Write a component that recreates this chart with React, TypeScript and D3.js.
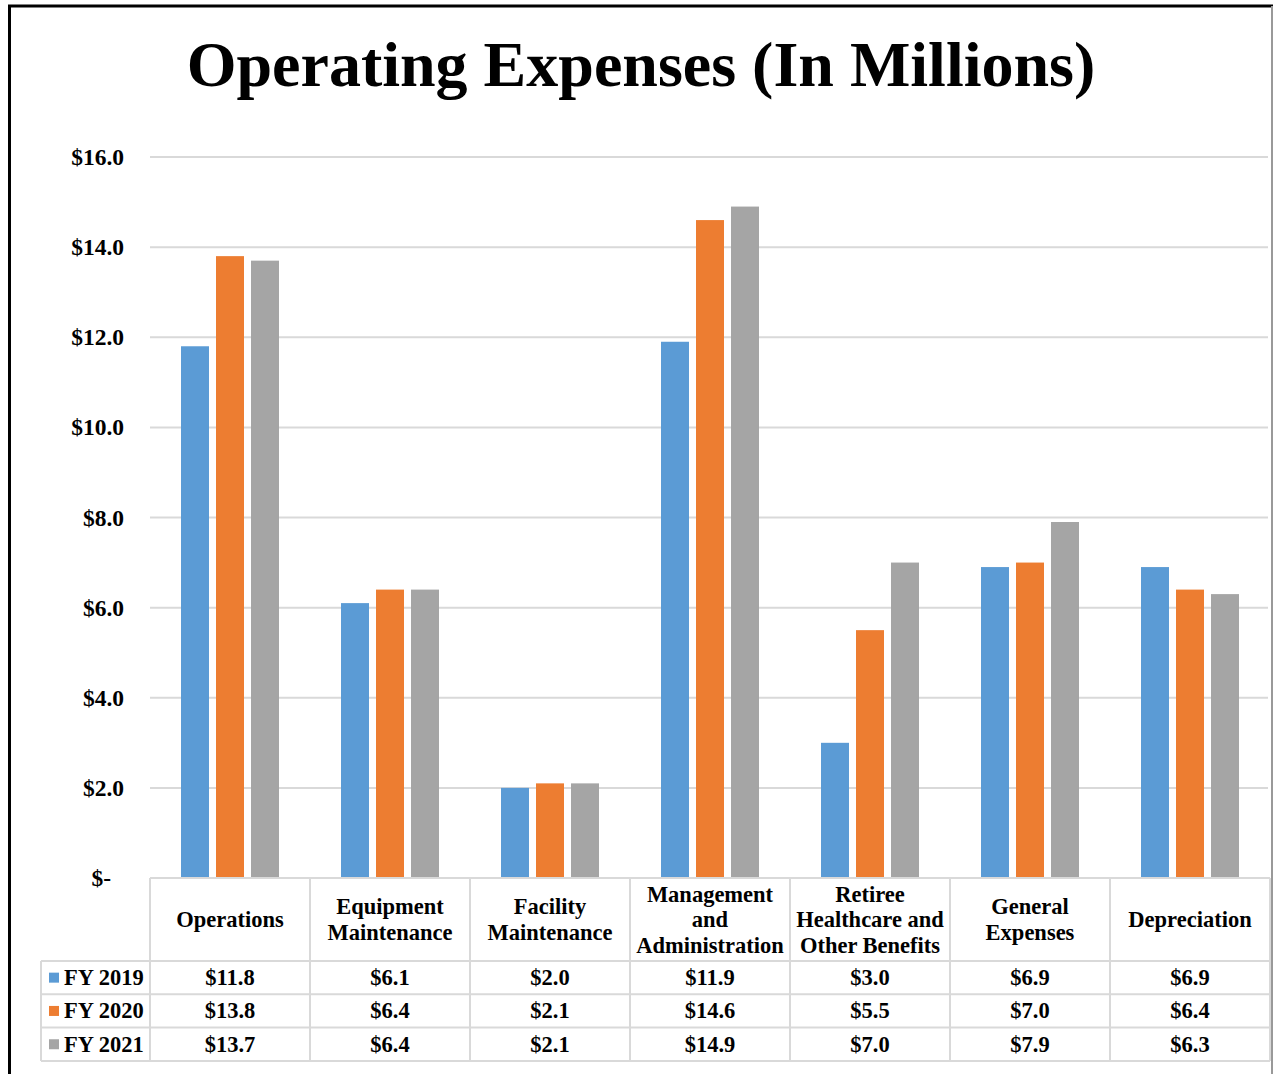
import * as d3 from "d3";

const categories = [
  ["Operations"],
  ["Equipment", "Maintenance"],
  ["Facility", "Maintenance"],
  ["Management", "and", "Administration"],
  ["Retiree", "Healthcare and", "Other Benefits"],
  ["General", "Expenses"],
  ["Depreciation"],
];
const seriesNames = ["FY 2019", "FY 2020", "FY 2021"];
const fy2019 = [11.8, 6.1, 2.0, 11.9, 3.0, 6.9, 6.9];
const fy2020 = [13.8, 6.4, 2.1, 14.6, 5.5, 7.0, 6.4];
const fy2021 = [13.7, 6.4, 2.1, 14.9, 7.0, 7.9, 6.3];
const yTicks = [0, 2, 4, 6, 8, 10, 12, 14, 16];

const seriesValues = [fy2019, fy2020, fy2021];
const colors = ["#5B9BD5", "#ED7D31", "#A5A5A5"];
const font = "'Liberation Serif', 'Times New Roman', serif";
const gridColor = "#d9d9d9";

export default function App() {
  const W = 1273;
  const H = 1074;
  const left = 150;
  const right = 1270;
  const top = 157;
  const bottom = 878;

  const x = d3
    .scaleBand<number>()
    .domain(d3.range(categories.length))
    .range([left, right]);
  const inner = d3
    .scaleBand<number>()
    .domain(d3.range(seriesNames.length))
    .range([31, x.bandwidth() - 31])
    .paddingInner(0.2);
  const y = d3.scaleLinear().domain([0, 16]).range([bottom, top]);

  const headerBottom = 961;
  const rowH = 33.3;
  const legendLeft = 41;
  const tableFont = 22.5;

  const fmt = (v: number) => `$${v.toFixed(1)}`;

  return (
    <div style={{ position: "absolute", left: 0, top: 0 }}>
      <svg width={W} height={H} style={{ display: "block", fontFamily: font }}>
        <rect x={0} y={0} width={W} height={H} fill="#fff" />
        {/* outer frame */}
        <line x1={9.5} x2={9.5} y1={5} y2={H} stroke="#000" strokeWidth={3} />
        <line x1={8} x2={W} y1={6} y2={6} stroke="#000" strokeWidth={3} />
        <line x1={1272} x2={1272} y1={6} y2={H} stroke="#999" strokeWidth={2} />

        <text
          x={641}
          y={86}
          textAnchor="middle"
          fontSize={64}
          fontWeight="bold"
        >
          Operating Expenses (In Millions)
        </text>

        {/* grid + y labels */}
        {yTicks.map((t) => (
          <g key={t}>
            {t > 0 && (
              <line
                x1={left}
                x2={1268}
                y1={y(t)}
                y2={y(t)}
                stroke={gridColor}
                strokeWidth={2}
              />
            )}
            <text
              x={t === 0 ? 111 : 124}
              y={y(t) + 8}
              textAnchor="end"
              fontSize={23.5}
              fontWeight="bold"
            >
              {t === 0 ? "$-" : `$${t.toFixed(1)}`}
            </text>
          </g>
        ))}

        {/* bars */}
        {categories.map((_, ci) =>
          seriesValues.map((vals, si) => (
            <rect
              key={`${ci}-${si}`}
              x={(x(ci) as number) + (inner(si) as number)}
              y={y(vals[ci])}
              width={inner.bandwidth()}
              height={y(0) - y(vals[ci])}
              fill={colors[si]}
            />
          ))
        )}

        {/* data table */}
        <g stroke={gridColor} strokeWidth={2}>
          <line x1={left} x2={right} y1={bottom} y2={bottom} />
          {d3.range(seriesNames.length + 1).map((r) => (
            <line
              key={r}
              x1={legendLeft}
              x2={right}
              y1={headerBottom + r * rowH}
              y2={headerBottom + r * rowH}
            />
          ))}
          {d3.range(categories.length + 1).map((c) => {
            const xx = c === categories.length ? right : (x(c) as number);
            return (
              <line
                key={c}
                x1={xx}
                x2={xx}
                y1={bottom}
                y2={headerBottom + seriesNames.length * rowH}
              />
            );
          })}
          <line
            x1={legendLeft}
            x2={legendLeft}
            y1={headerBottom}
            y2={headerBottom + seriesNames.length * rowH}
          />
        </g>

        {categories.map((lines, ci) => {
          const cx = (x(ci) as number) + x.bandwidth() / 2;
          const mid = (bottom + headerBottom) / 2;
          const lh = 25.5;
          return (
            <text
              key={ci}
              textAnchor="middle"
              fontSize={tableFont}
              fontWeight="bold"
            >
              {lines.map((ln, li) => (
                <tspan
                  key={li}
                  x={cx}
                  y={mid + (li - (lines.length - 1) / 2) * lh + 7.5}
                >
                  {ln}
                </tspan>
              ))}
            </text>
          );
        })}

        {seriesNames.map((name, si) => {
          const cy = headerBottom + (si + 0.5) * rowH;
          return (
            <g key={name}>
              <rect x={49} y={cy - 5} width={10} height={10} fill={colors[si]} />
              <text x={64} y={cy + 7.5} fontSize={tableFont} fontWeight="bold">
                {name}
              </text>
              {seriesValues[si].map((v, ci) => (
                <text
                  key={ci}
                  x={(x(ci) as number) + x.bandwidth() / 2}
                  y={cy + 7.5}
                  textAnchor="middle"
                  fontSize={tableFont}
                  fontWeight="bold"
                >
                  {fmt(v)}
                </text>
              ))}
            </g>
          );
        })}
      </svg>
    </div>
  );
}
